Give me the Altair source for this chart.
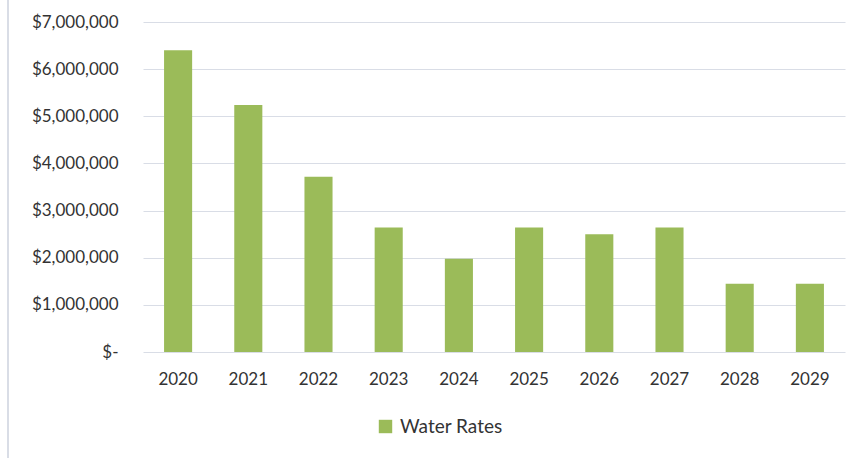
import altair as alt
import pandas as pd

years = ["2020", "2021", "2022", "2023", "2024", "2025", "2026", "2027", "2028", "2029"]
water_rates = [6400000, 5240000, 3720000, 2640000, 1980000, 2640000, 2500000, 2640000, 1450000, 1450000]
series_name = "Water Rates"
y_ticks = [0, 1000000, 2000000, 3000000, 4000000, 5000000, 6000000, 7000000]

df = pd.DataFrame({"Year": years, "Value": water_rates, "Series": [series_name] * len(years)})

FONT = "Lato"
TXT = "#333333"
GRID = "#D9DDE6"
GREEN = "#9BBB59"

bars = alt.Chart(df).mark_bar(color=GREEN).encode(
    x=alt.X("Year:N", sort=years,
            scale=alt.Scale(paddingInner=0.6, paddingOuter=0.3),
            axis=alt.Axis(title=None, labelAngle=0, ticks=False, domain=False, grid=False,
                          labelPadding=19, labelFontSize=17, labelFont=FONT, labelColor=TXT)),
    y=alt.Y("Value:Q", scale=alt.Scale(domain=[0, 7000000], nice=False),
            axis=alt.Axis(title=None, values=y_ticks, ticks=False, domain=False,
                          gridColor=GRID, gridWidth=1.2,
                          labelExpr="datum.value == 0 ? '$-\u00a0\u00a0' : '$' + format(datum.value, ',')",
                          labelPadding=25, labelFontSize=17, labelFont=FONT, labelColor=TXT)),
    fill=alt.Fill("Series:N", scale=alt.Scale(range=[GREEN]),
                  legend=alt.Legend(title=None, orient="none", legendX=233, legendY=395,
                                    symbolType="square", symbolSize=180, symbolStrokeWidth=0,
                                    labelFontSize=19, labelFont=FONT, labelColor=TXT,
                                    labelOffset=5)),
)

border = alt.Chart(df).mark_rule(color=GRID, strokeWidth=1.5, clip=False).encode(
    x=alt.value(-135), y=alt.value(-22), y2=alt.value(436)
)

chart = alt.layer(bars, border).properties(
    width=702, height=330,
    background="white",
    autosize=alt.AutoSizeParams(type="none"),
    padding={"left": 143, "top": 22, "right": 12, "bottom": 106},
).configure_view(stroke=None)

chart.save("out.html", embed_options={"renderer": "svg", "actions": False})
